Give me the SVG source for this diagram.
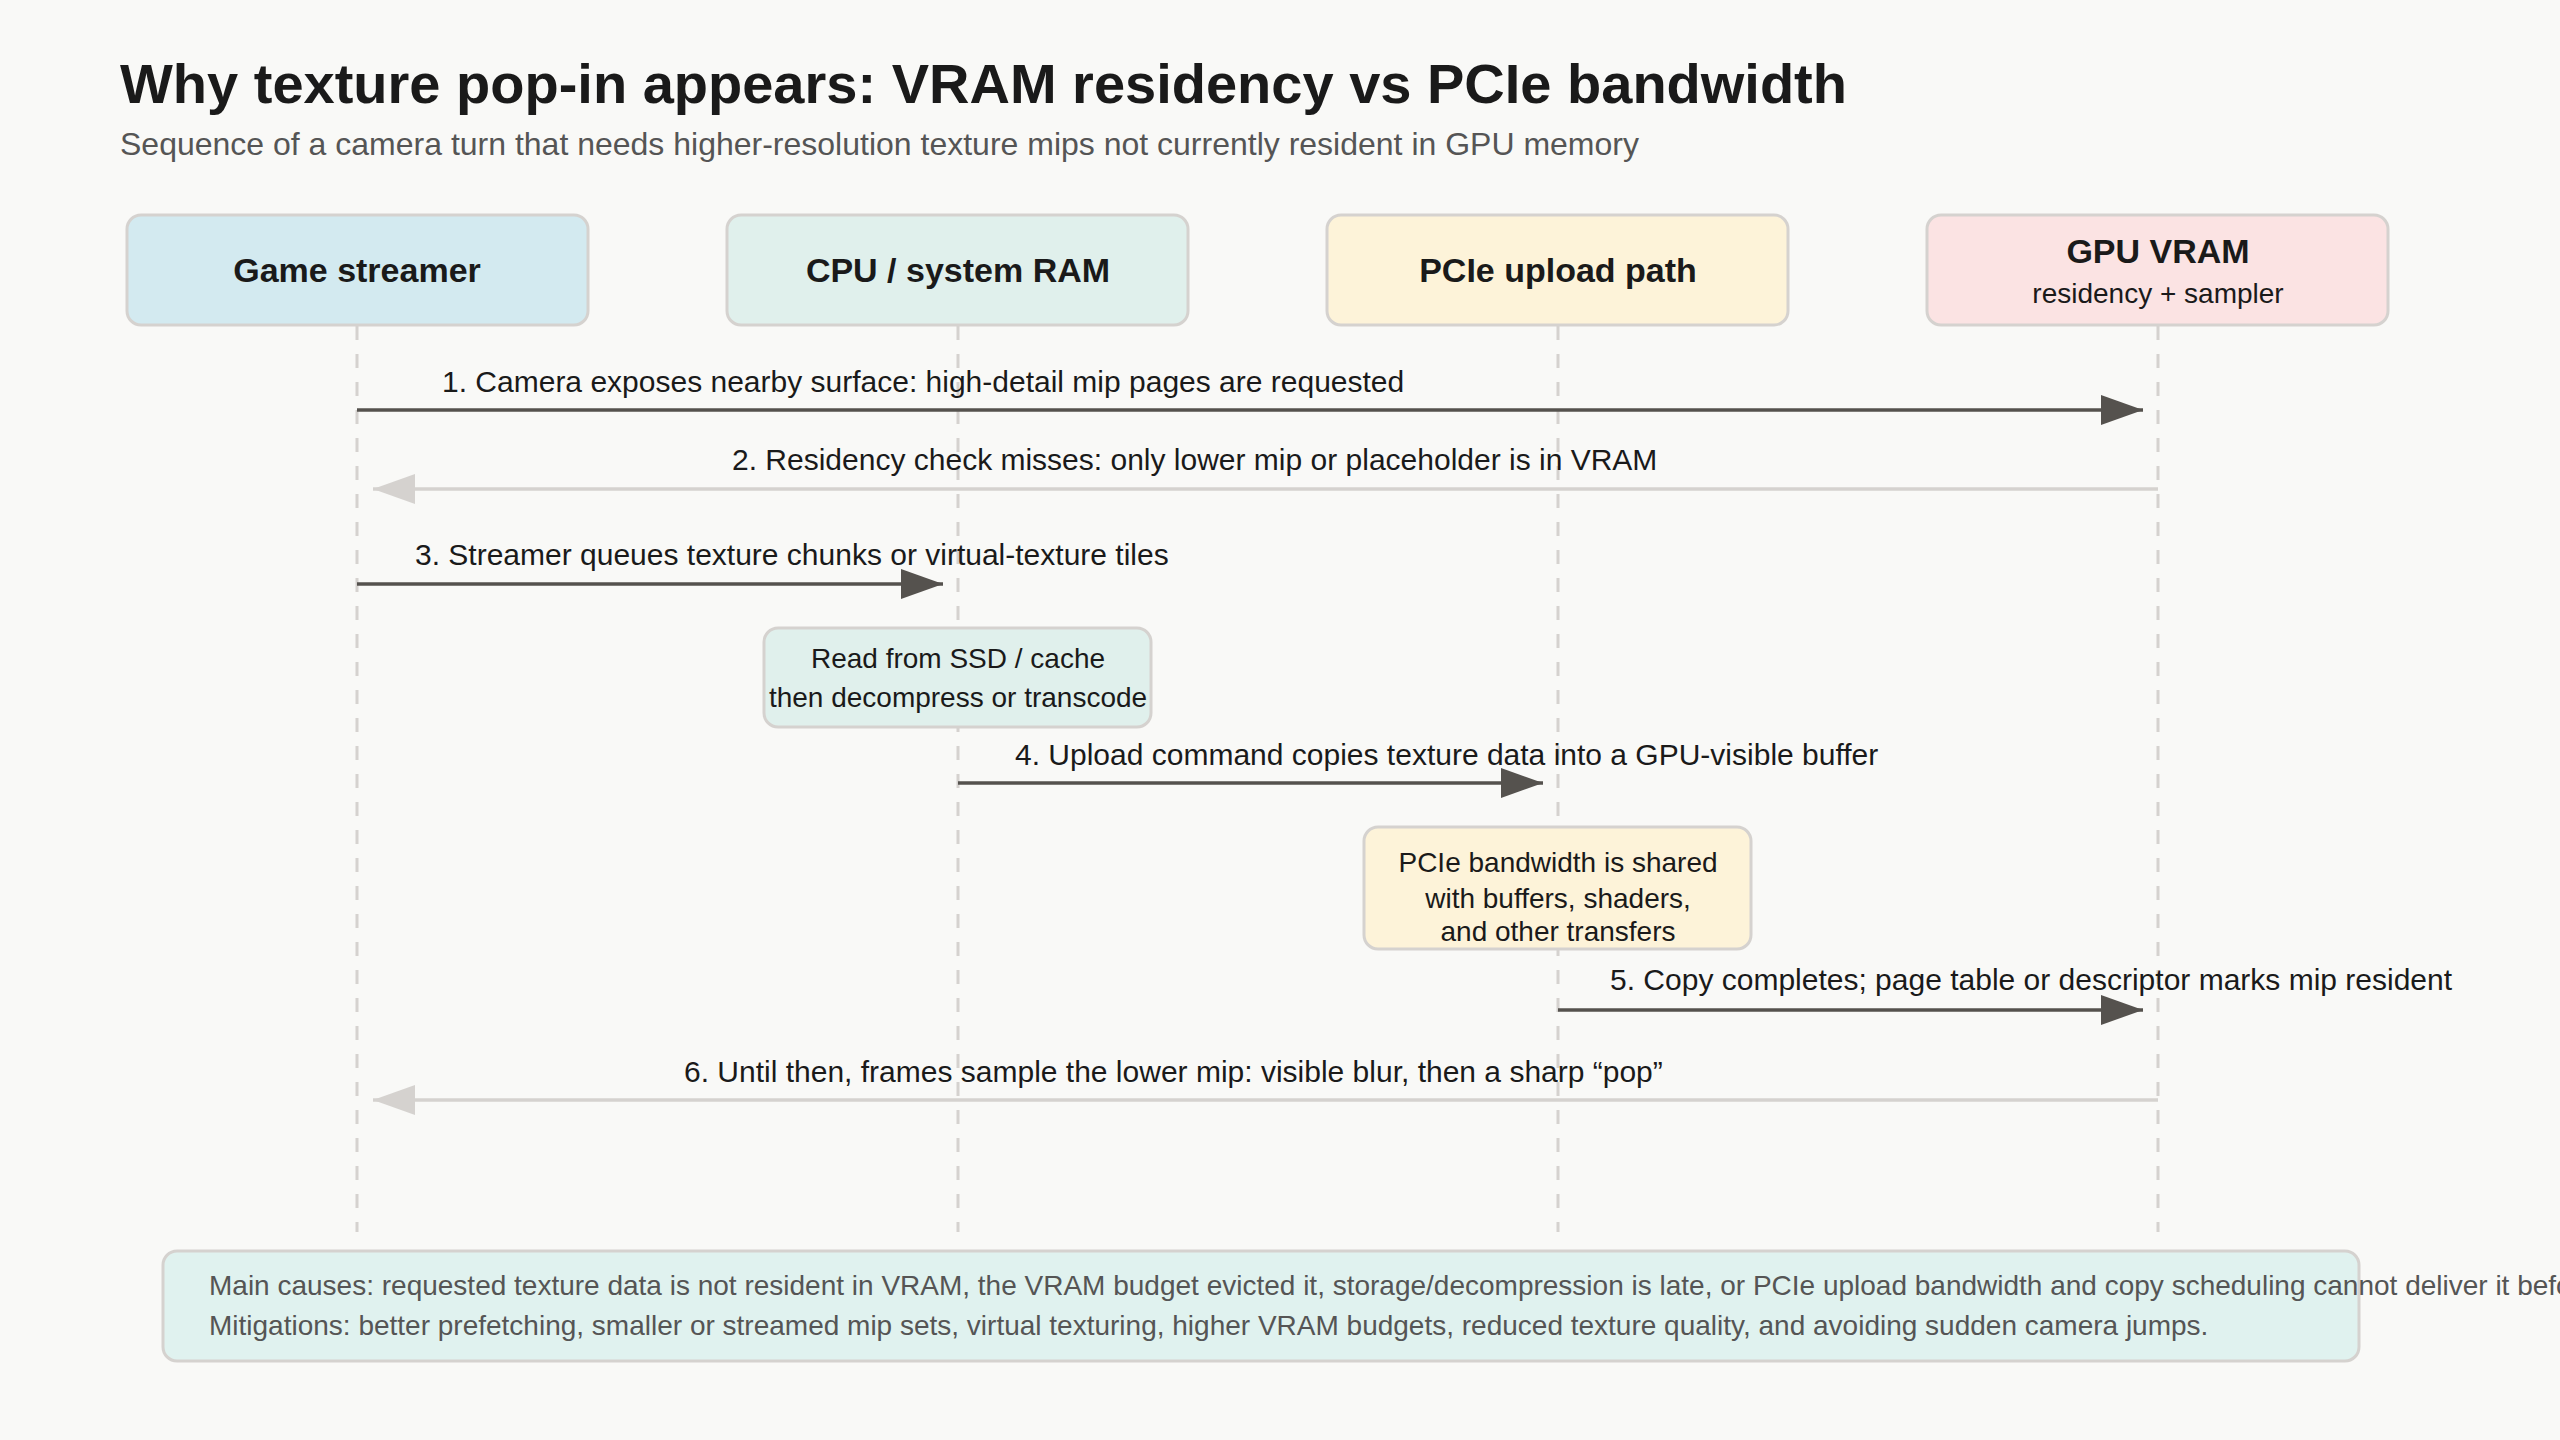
<svg xmlns="http://www.w3.org/2000/svg" width="2560" height="1440" viewBox="0 0 2560 1440">
<defs>
<style>
text{font-family:"Liberation Sans",Arial,sans-serif;}
.node{stroke:#d5d2cf;stroke-width:3;}
.nl{font-size:34px;font-weight:bold;fill:#1a1a1a;text-anchor:middle;}
.ns{font-size:28px;fill:#1a1a1a;text-anchor:middle;}
.life{stroke:#d5d2cf;stroke-width:3;stroke-dasharray:14 14;fill:none;}
.msg{stroke:#55524e;stroke-width:3.5;fill:none;}
.ret{stroke:#d5d2cf;stroke-width:3.5;fill:none;}
.ml{font-size:30px;fill:#1a1a1a;}
.note{stroke:#d5d2cf;stroke-width:3;}
.nt{font-size:28px;fill:#1a1a1a;text-anchor:middle;}
</style>
<marker id="ah" markerWidth="42" markerHeight="30" refX="42" refY="15" orient="auto" markerUnits="userSpaceOnUse"><path d="M0,0 L42,15 L0,30 Z" fill="#55524e"/></marker>
<marker id="ahl" markerWidth="42" markerHeight="30" refX="42" refY="15" orient="auto" markerUnits="userSpaceOnUse"><path d="M0,0 L42,15 L0,30 Z" fill="#d5d2cf"/></marker>
</defs>
<rect width="2560" height="1440" fill="#f9f9f7"/>
<text x="120" y="103" font-size="56" font-weight="bold" fill="#1a1a1a">Why texture pop-in appears: VRAM residency vs PCIe bandwidth</text>
<text x="120" y="155" font-size="32" fill="#555555">Sequence of a camera turn that needs higher-resolution texture mips not currently resident in GPU memory</text>
<g id="lifelines">
<line class="life" x1="357" y1="326" x2="357" y2="1232"/>
<line class="life" x1="958" y1="326" x2="958" y2="1232"/>
<line class="life" x1="1558" y1="326" x2="1558" y2="1232"/>
<line class="life" x1="2158" y1="326" x2="2158" y2="1232"/>
</g>
<g id="n-streamer"><rect class="node" x="127" y="215" width="461" height="110" rx="14" fill="#d3eaf0"/><text class="nl" x="357" y="282">Game streamer</text></g>
<g id="n-cpu"><rect class="node" x="727" y="215" width="461" height="110" rx="14" fill="#e0f0ec"/><text class="nl" x="958" y="282">CPU / system RAM</text></g>
<g id="n-pcie"><rect class="node" x="1327" y="215" width="461" height="110" rx="14" fill="#fdf3d9"/><text class="nl" x="1558" y="282">PCIe upload path</text></g>
<g id="n-gpu"><rect class="node" x="1927" y="215" width="461" height="110" rx="14" fill="#fbe3e3"/><text class="nl" x="2158" y="263">GPU VRAM</text><text class="ns" x="2158" y="303">residency + sampler</text></g>
<g id="connectors">
<line class="msg" x1="357" y1="410" x2="2143" y2="410" marker-end="url(#ah)"/>
<text class="ml" x="442" y="392">1. Camera exposes nearby surface: high-detail mip pages are requested</text>
<line class="ret" x1="2158" y1="489" x2="373" y2="489" marker-end="url(#ahl)"/>
<text class="ml" x="732" y="470">2. Residency check misses: only lower mip or placeholder is in VRAM</text>
<line class="msg" x1="357" y1="584" x2="943" y2="584" marker-end="url(#ah)"/>
<text class="ml" x="415" y="565">3. Streamer queues texture chunks or virtual-texture tiles</text>
<line class="msg" x1="958" y1="783" x2="1543" y2="783" marker-end="url(#ah)"/>
<text class="ml" x="1015" y="765">4. Upload command copies texture data into a GPU-visible buffer</text>
<line class="msg" x1="1558" y1="1010" x2="2143" y2="1010" marker-end="url(#ah)"/>
<text class="ml" x="1610" y="990">5. Copy completes; page table or descriptor marks mip resident</text>
<line class="ret" x1="2158" y1="1100" x2="373" y2="1100" marker-end="url(#ahl)"/>
<text class="ml" x="684" y="1082">6. Until then, frames sample the lower mip: visible blur, then a sharp “pop”</text>
</g>
<g id="note-ssd"><rect class="note" x="764" y="628" width="387" height="99" rx="14" fill="#e0f0ec"/><text class="nt" x="958" y="668">Read from SSD / cache</text><text class="nt" x="958" y="707">then decompress or transcode</text></g>
<g id="note-pcie"><rect class="note" x="1364" y="827" width="387" height="122" rx="14" fill="#fdf3d9"/><text class="nt" x="1558" y="872">PCIe bandwidth is shared</text><text class="nt" x="1558" y="908">with buffers, shaders,</text><text class="nt" x="1558" y="941">and other transfers</text></g>
<g id="summary"><rect class="note" x="163" y="1251" width="2196" height="110" rx="14" fill="#e0f2ef"/>
<text x="209" y="1295" font-size="28" fill="#555555">Main causes: requested texture data is not resident in VRAM, the VRAM budget evicted it, storage/decompression is late, or PCIe upload bandwidth and copy scheduling cannot deliver it before use.</text>
<text x="209" y="1335" font-size="28" fill="#555555">Mitigations: better prefetching, smaller or streamed mip sets, virtual texturing, higher VRAM budgets, reduced texture quality, and avoiding sudden camera jumps.</text></g>
</svg>
